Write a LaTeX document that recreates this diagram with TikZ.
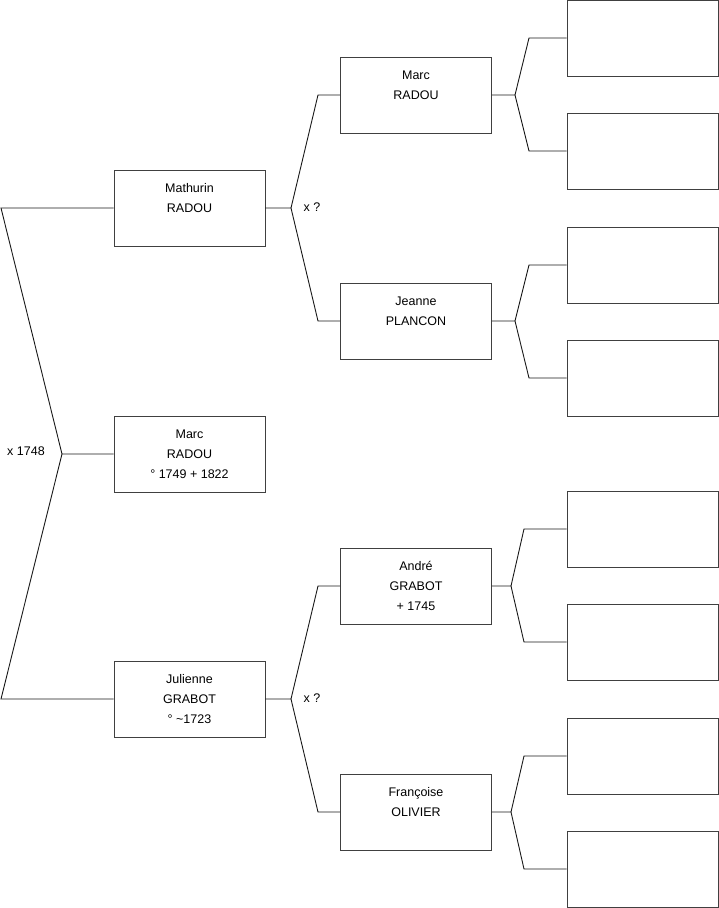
\documentclass[tikz,border=0pt]{standalone}
\usepackage{fontspec}
\setmainfont{Liberation Sans}
\usepackage{tikz}
\usetikzlibrary{positioning}
\usepackage{xcolor}
\definecolor{boxedge}{rgb}{0.25, 0.25, 0.25}
\definecolor{forkline}{rgb}{0.1, 0.1, 0.1}

\begin{document}
\begin{tikzpicture}[x=1pt, y=-1pt,
				person/.style={draw=boxedge, line width=0.9pt, fill=white, minimum width=151pt, minimum height=76pt, inner sep=0pt, align=center, font=\fontsize{12.5}{20}\selectfont},
				unknown/.style={person},
				fork/.style={draw=forkline, line width=0.9pt},
				wedding/.style={font=\fontsize{12.5}{15}\selectfont, inner sep=0pt}
			]
			\useasboundingbox (0,0) rectangle (719,908);

			% --- Generation 0 (x = 189.5) ---
			\node[person] (p_mathurin) at (189.5, 208) {Mathurin\\RADOU\\~};
			\node[person] (p_marc) at (189.5, 454) {Marc\\RADOU\\° 1749 + 1822};
			\node[person] (p_julienne) at (189.5, 699) {Julienne\\GRABOT\\° \textasciitilde 1723};

			% --- Generation 1 (x = 416) ---
			\node[person] (p_marc_f) at (416, 95) {Marc\\RADOU\\~};
			\node[person] (p_jeanne) at (416, 321) {Jeanne\\PLANCON\\~};
			\node[person] (p_andre) at (416, 586) {André\\GRABOT\\+ 1745};
			\node[person] (p_francoise) at (416, 812) {Françoise\\OLIVIER\\~};

			% --- Generation 2, unknown (x = 642.5) ---
			\node[unknown] (u_1) at (642.5, 38) {};
			\node[unknown] (u_2) at (642.5, 151) {};
			\node[unknown] (u_3) at (642.5, 265) {};
			\node[unknown] (u_4) at (642.5, 378) {};
			\node[unknown] (u_5) at (642.5, 529) {};
			\node[unknown] (u_6) at (642.5, 642) {};
			\node[unknown] (u_7) at (642.5, 756) {};
			\node[unknown] (u_8) at (642.5, 869) {};

			% --- Fork points ---
			\coordinate (j_marc) at (62, 454);
			\coordinate (e_marc_up) at (1, 208);
			\coordinate (e_marc_dn) at (1, 699);

			\coordinate (j_mathurin) at (291, 208);
			\coordinate (e_mathurin_up) at (318, 95);
			\coordinate (e_mathurin_dn) at (318, 321);

			\coordinate (j_julienne) at (291, 699);
			\coordinate (e_julienne_up) at (318, 586);
			\coordinate (e_julienne_dn) at (318, 812);

			\coordinate (j_marc_f) at (515, 95);
			\coordinate (e_marc_f_up) at (529, 38);
			\coordinate (e_marc_f_dn) at (529, 151);

			\coordinate (j_jeanne) at (515, 321);
			\coordinate (e_jeanne_up) at (529, 265);
			\coordinate (e_jeanne_dn) at (529, 378);

			\coordinate (j_andre) at (511, 586);
			\coordinate (e_andre_up) at (524, 529);
			\coordinate (e_andre_dn) at (524, 642);

			\coordinate (j_francoise) at (511, 812);
			\coordinate (e_francoise_up) at (524, 756);
			\coordinate (e_francoise_dn) at (524, 869);

			% --- Marriage labels ---
			\node[wedding] (w_marc) at (26, 451) {x 1748};
			\node[wedding] (w_mathurin) at (312, 207) {x ?};
			\node[wedding] (w_julienne) at (312, 698) {x ?};

			% --- Connections ---
			\draw[fork] (p_marc.west) -- (j_marc) -- (e_marc_up) -- (p_mathurin.west);
			\draw[fork] (j_marc) -- (e_marc_dn) -- (p_julienne.west);

			\draw[fork] (p_mathurin.east) -- (j_mathurin) -- (e_mathurin_up) -- (p_marc_f.west);
			\draw[fork] (j_mathurin) -- (e_mathurin_dn) -- (p_jeanne.west);

			\draw[fork] (p_julienne.east) -- (j_julienne) -- (e_julienne_up) -- (p_andre.west);
			\draw[fork] (j_julienne) -- (e_julienne_dn) -- (p_francoise.west);

			\draw[fork] (p_marc_f.east) -- (j_marc_f) -- (e_marc_f_up) -- (u_1.west);
			\draw[fork] (j_marc_f) -- (e_marc_f_dn) -- (u_2.west);

			\draw[fork] (p_jeanne.east) -- (j_jeanne) -- (e_jeanne_up) -- (u_3.west);
			\draw[fork] (j_jeanne) -- (e_jeanne_dn) -- (u_4.west);

			\draw[fork] (p_andre.east) -- (j_andre) -- (e_andre_up) -- (u_5.west);
			\draw[fork] (j_andre) -- (e_andre_dn) -- (u_6.west);

			\draw[fork] (p_francoise.east) -- (j_francoise) -- (e_francoise_up) -- (u_7.west);
			\draw[fork] (j_francoise) -- (e_francoise_dn) -- (u_8.west);

		\end{tikzpicture}
\end{document}
